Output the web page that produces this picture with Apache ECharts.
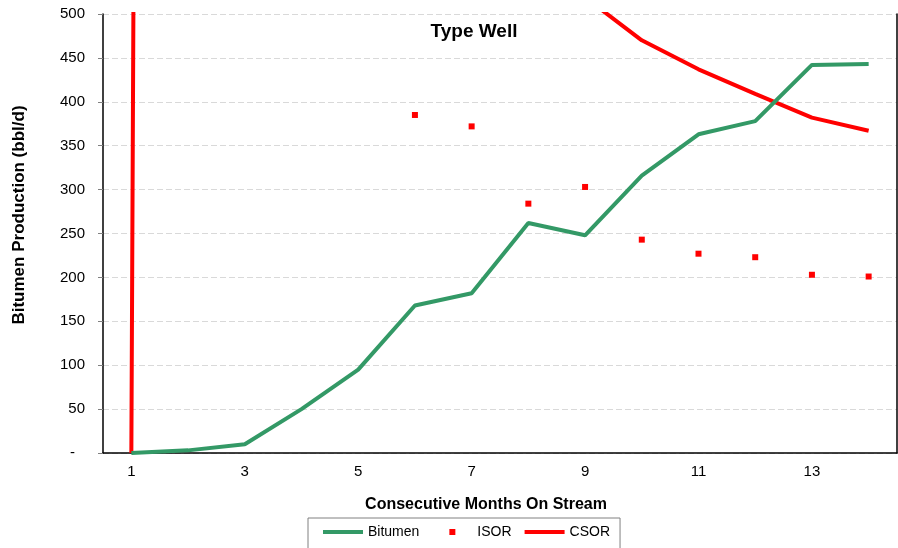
<!DOCTYPE html>
<html>
<head>
<meta charset="utf-8">
<script src="https://cdn.jsdelivr.net/npm/echarts@6/dist/echarts.min.js"></script>
<style>html,body{margin:0;padding:0;background:#fff;}#c{width:898px;height:548px;}</style>
</head>
<body>
<div id="c"></div>
<script>
const months = ['1','2','3','4','5','6','7','8','9','10','11','12','13','14'];
const bitumen = [0, 3, 10, 50, 95, 168, 182, 262, 248, 316, 363, 378, 442, 443];
const isor = [null, null, null, null, null, 385, 372, 284, 303, 243, 227, 223, 203, 201];
const csor = [0, 14000, 3000, 1500, 1000, 800, 680, 590, 519, 470, 437, 409, 382, 367];
const yTicks = [0, 50, 100, 150, 200, 250, 300, 350, 400, 450, 500];

const FONT = '"Liberation Sans", Arial, sans-serif';
const LINE_ICON = 'path://M0,0 M40,8 M0,2 L40,2 L40,6 L0,6 Z';
const SQ_ICON = 'path://M0,0 M40,8 M17,1 L23,1 L23,7 L17,7 Z';
const chart = echarts.init(document.getElementById('c'));
chart.setOption({
  animation: false,
  backgroundColor: '#fff',
  textStyle: { fontFamily: FONT },
  title: {
    text: 'Type Well', left: 469, top: 17, textAlign: 'center',
    textStyle: { fontFamily: FONT, fontSize: 19, fontWeight: 'bold', color: '#000' }
  },
  graphic: [{
    type: 'text', x: 19, y: 215, rotation: Math.PI / 2,
    style: {
      text: 'Bitumen Production (bbl/d)', fontFamily: FONT, fontSize: 17, fontWeight: 'bold',
      fill: '#000', align: 'center', verticalAlign: 'middle'
    }
  }],
  legend: {
    left: 308, top: 518,
    padding: [7, 10, 10, 15],
    borderColor: '#808080', borderWidth: 1,
    itemGap: 13,
    itemWidth: 40, itemHeight: 8,
    textStyle: { fontFamily: FONT, fontSize: 14, color: '#000' },
    data: [
      { name: 'Bitumen', icon: LINE_ICON },
      { name: 'ISOR', icon: SQ_ICON },
      { name: 'CSOR', icon: LINE_ICON }
    ]
  },
  grid: { left: 103, right: 1, top: 14, bottom: 95, containLabel: false },
  xAxis: {
    type: 'category', data: months, boundaryGap: true,
    name: 'Consecutive Months On Stream', nameLocation: 'middle', nameGap: 44,
    nameTextStyle: { fontFamily: FONT, fontSize: 16, fontWeight: 'bold', color: '#000', padding: [0, 28, 0, 0] },
    axisLine: { lineStyle: { color: '#000', width: 1.5 } },
    axisTick: { interval: 1, length: 5, lineStyle: { color: '#808080' } },
    axisLabel: { interval: 1, fontFamily: FONT, fontSize: 15, color: '#000', margin: 11 },
    splitLine: { show: false }
  },
  yAxis: [{
    type: 'value', min: 0, max: 500, interval: 50,
    axisLine: { show: true, lineStyle: { color: '#000', width: 1.5 } },
    axisTick: { show: true, length: 5, lineStyle: { color: '#808080' } },
    axisLabel: {
      fontFamily: FONT, fontSize: 15, color: '#000', margin: 18,
      formatter: v => (yTicks.indexOf(v) === 0 ? '{d|-}' : String(v)),
      rich: { d: { fontFamily: FONT, fontSize: 15, color: '#000', padding: [0, 10, 0, 0] } }
    },
    splitLine: { show: true, lineStyle: { color: '#d9d9d9', type: [6, 3], width: 1 } }
  }, {
    type: 'value', min: 0, max: 500, interval: 50, position: 'right',
    axisLine: { show: true, lineStyle: { color: '#000', width: 1.5 } },
    axisTick: { show: false }, axisLabel: { show: false }, splitLine: { show: false }
  }],
  series: [
    {
      name: 'Bitumen', type: 'line', data: bitumen, symbol: 'none',
      lineStyle: { color: '#339966', width: 4 }, itemStyle: { color: '#339966' }, z: 3
    },
    {
      name: 'ISOR', type: 'line', data: isor, symbol: 'rect', symbolSize: 6, showSymbol: true,
      lineStyle: { opacity: 0, width: 0 }, itemStyle: { color: '#ff0000' }, connectNulls: false, z: 4
    },
    {
      name: 'CSOR', type: 'line', data: csor, symbol: 'none', clip: true,
      lineStyle: { color: '#ff0000', width: 4 }, itemStyle: { color: '#ff0000' }, z: 2
    }
  ]
});
</script>
</body>
</html>
